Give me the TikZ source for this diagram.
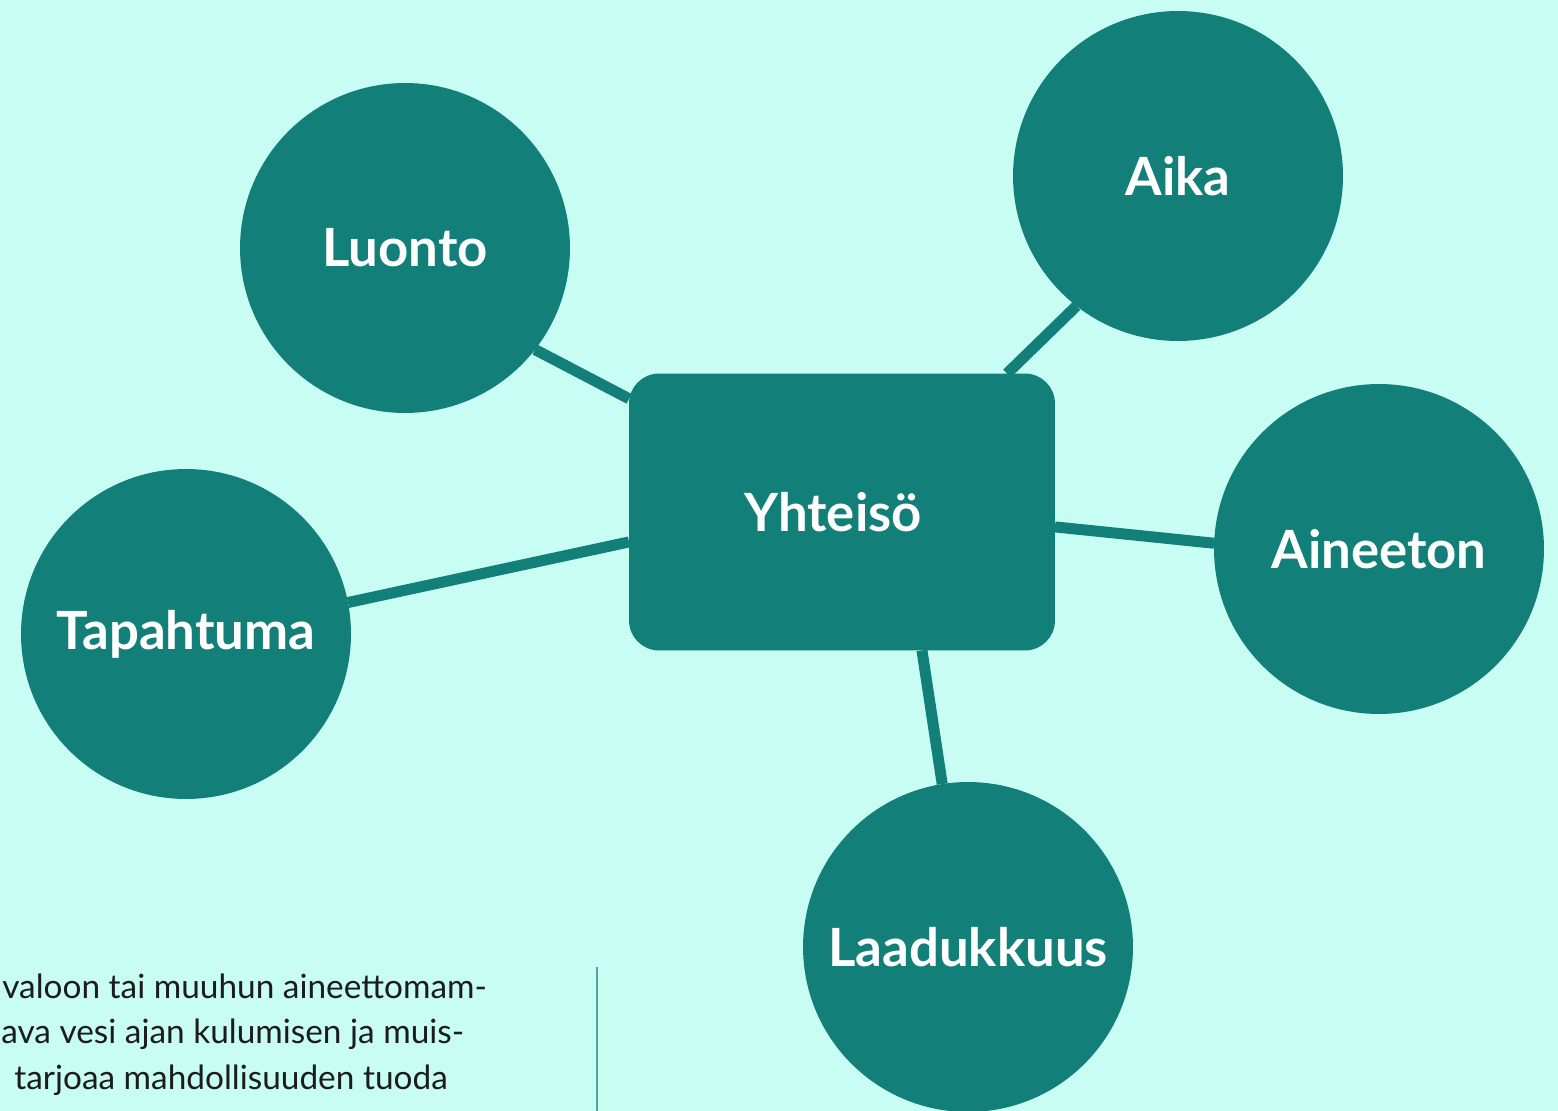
\documentclass[tikz,border=0pt]{standalone}
\usepackage{fontspec}
\setmainfont{Lato}
\usepackage{xcolor}
\usetikzlibrary{positioning}

\definecolor{mintbg}{HTML}{C7FDF3}
\definecolor{tealdark}{HTML}{127F78}
\definecolor{tealline}{HTML}{4FA59C}
\definecolor{inkgray}{HTML}{1C1C1C}

\begin{document}
\begin{tikzpicture}[
    x=0.02cm, y=-0.02cm,
    topic/.style={circle, fill=tealdark, inner sep=0pt, outer sep=0pt, minimum size=6.6cm, text=white, font=\fontsize{30}{36}\selectfont\bfseries},
    hub/.style={rectangle, rounded corners=0.6cm, fill=tealdark, inner sep=0pt, outer sep=0pt, minimum width=8.52cm, minimum height=5.54cm, text=white, font=\fontsize{30}{36}\selectfont\bfseries},
    link/.style={draw=tealdark, line width=0.22cm},
    bodytext/.style={anchor=base west, inner sep=0pt, text=inkgray, font=\fontsize{19}{23}\selectfont}
]

\fill[mintbg] (0,0) rectangle (1558,1111);
\useasboundingbox (0,0) rectangle (1558,1111);
\clip (0,0) rectangle (1558,1111);

\node[hub] (yhteiso) at (842,512) {\hspace*{-0.36cm}Yhteisö\raisebox{0.12cm}{}};
\node[topic] (luonto) at (405,248) {Luonto};
\node[topic] (aika) at (1178,176) {Aika};
\node[topic] (aineeton) at (1379,549) {Aineeton};
\node[topic] (tapahtuma) at (186,634) {Tapahtuma};
\node[topic] (laatu) at (968,947) {Laadukkuus};

\draw[link] (luonto.-38) -- (yhteiso.152.3);
\draw[link] (aika.232) -- (yhteiso.40.6);
\draw[link] (aineeton.178.6) -- (yhteiso.-4);
\draw[link] (tapahtuma.11.9) -- (yhteiso.188.8);
\draw[link] (laatu.99.8) -- (yhteiso.-60.7);

\node[bodytext] (rivi1) at (2,998) {valoon tai muuhun aineettomam-};
\node[bodytext] (rivi2) at (1,1043) {ava vesi ajan kulumisen ja muis-};
\node[bodytext] (rivi3) at (14,1089) {tarjoaa mahdollisuuden tuoda};

\coordinate (jako1) at (597,967);
\coordinate (jako2) at (597,1111);
\draw[draw=tealline, line width=0.04cm] (jako1) -- (jako2);

\end{tikzpicture}
\end{document}
